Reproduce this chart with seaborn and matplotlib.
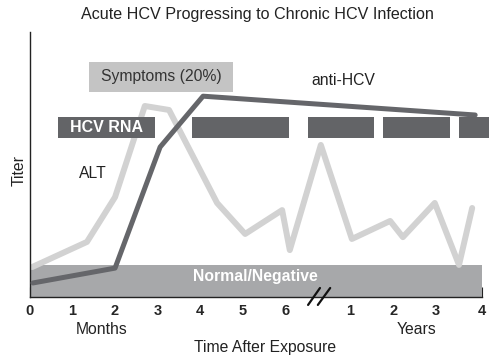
import numpy as np
import pandas as pd
import matplotlib
matplotlib.use('Agg')
import matplotlib.pyplot as plt
import seaborn as sns

# Time axis: months 0-6, then a break, then years 1-4 (plot units)
tick_pos = [0, 1, 2, 3, 4, 5, 6, 7.53, 8.54, 9.55, 10.63]
tick_labels = ['0', '1', '2', '3', '4', '5', '6', '1', '2', '3', '4']

# ALT curve (relative titer)
alt_x = [0.05, 1.34, 2.0, 2.70, 3.27, 4.40, 5.06, 5.93, 6.11, 6.84,
         7.57, 8.47, 8.77, 9.52, 10.09, 10.40]
alt_y = [11.3, 20.8, 37.7, 72.1, 70.6, 35.5, 23.8, 32.8, 17.7, 57.4,
         21.9, 28.7, 22.6, 35.5, 12.1, 33.6]

# anti-HCV curve
anti_x = [0.07, 2.0, 3.06, 4.07, 10.47]
anti_y = [5.3, 10.9, 56.6, 75.8, 68.7]

# HCV RNA detection periods (start, end)
rna_start = [0.66, 3.81, 6.54, 8.30, 10.09]
rna_end = [2.94, 6.09, 8.09, 9.88, 10.79]
rna_low, rna_high = 60.0, 67.9

# Symptoms period
sym_start, sym_end = 1.39, 4.77
sym_low, sym_high = 77.4, 88.7

# Normal / negative band
normal_top = 12.1
x_end = 10.63

sns.set_theme(style='white')
plt.rcParams['font.family'] = ['Liberation Sans', 'DejaVu Sans']

fig = plt.figure(figsize=(5, 3.58), dpi=100)
ax = fig.add_axes([0.06, 0.1704, 0.9184, 0.740])

fs = 11.3

# background boxes
ax.fill_between([0, x_end], 0, normal_top, color='#a7a8aa', lw=0, zorder=1)
ax.fill_between([sym_start, sym_end], sym_low, sym_high, color='#c4c4c4', lw=0, zorder=1)

alt_df = pd.DataFrame({'x': alt_x, 'y': alt_y})
anti_df = pd.DataFrame({'x': anti_x, 'y': anti_y})
sns.lineplot(data=alt_df, x='x', y='y', sort=False, color='#d2d2d2', lw=4.3, ax=ax, zorder=2)
sns.lineplot(data=anti_df, x='x', y='y', sort=False, color='#65666a', lw=3.6, ax=ax, zorder=3)

for s, e in zip(rna_start, rna_end):
    ax.fill_between([s, e], rna_low, rna_high, color='#636467', lw=0, zorder=4, clip_on=False)

# labels inside chart
ax.text((rna_start[0] + rna_end[0]) / 2, (rna_low + rna_high) / 2, 'HCV RNA', color='white',
        fontsize=11.5, fontweight='bold', ha='center', va='center', zorder=5)
ax.text((sym_start + sym_end) / 2, (sym_low + sym_high) / 2, 'Symptoms (20%)', color='#333333',
        fontsize=fs, ha='center', va='center', zorder=5)
ax.text(5.31, 7.9, 'Normal/Negative', color='white', fontsize=fs, fontweight='bold',
        ha='center', va='center', zorder=5)
ax.text(1.48, 46.8, 'ALT', fontsize=fs, color='#222222', ha='center', va='center')
ax.text(7.38, 81.9, 'anti-HCV', fontsize=fs, color='#222222', ha='center', va='center')

ax.set_xlim(0, 10.8)
ax.set_ylim(0, 100)
ax.set_xticks(tick_pos)
ax.set_xticklabels(tick_labels, fontweight='bold', fontsize=10.5)
ax.set_yticks([])
ax.tick_params(axis='x', direction='in', length=7.2, width=0.8, color='#222222', pad=5, bottom=True)
for side in ['top', 'right']:
    ax.spines[side].set_visible(False)
ax.spines['bottom'].set_bounds(0, x_end)
for side in ['bottom', 'left']:
    ax.spines[side].set_color('#222222')
    ax.spines[side].set_linewidth(1.0)
ax.set_xlabel('')
ax.set_ylabel('')

# axis break marks
ax.plot([6.54, 6.82], [-3.0, 3.4], color='#111111', lw=1.6, clip_on=False, zorder=6)
ax.plot([6.77, 7.06], [-3.0, 3.4], color='#111111', lw=1.6, clip_on=False, zorder=6)

ax.text(1.69, -12.45, 'Months', fontsize=fs, color='#222222', ha='center', va='center', clip_on=False)
ax.text(9.08, -12.45, 'Years', fontsize=fs, color='#222222', ha='center', va='center', clip_on=False)
ax.text(5.53, -19.2, 'Time After Exposure', fontsize=fs, color='#222222', ha='center', va='center', clip_on=False)
ax.text(-0.26, 47.9, 'Titer', fontsize=fs, color='#222222', rotation=90, ha='center', va='center', clip_on=False)

fig.text(0.514, 1 - 14 / 358, 'Acute HCV Progressing to Chronic HCV Infection', fontsize=11.6,
         color='#222222', ha='center', va='center')

fig.savefig('out.png', dpi=100)
